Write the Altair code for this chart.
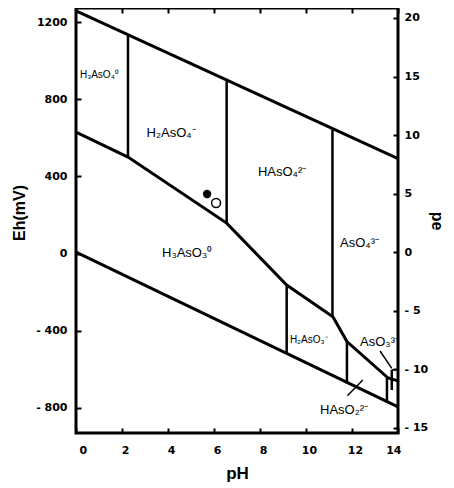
import altair as alt
import pandas as pd

# ---- data (pH, Eh in mV) ----
upper_ph = [0, 14]
upper_eh = [1258, 492]
lower_ph = [0, 14]
lower_eh = [8, -795]
bound_ph = [0, 2.26, 6.55, 9.16, 11.17, 11.78, 13.57, 14]
bound_eh = [630, 500, 158, -163, -327, -456, -645, -660]
vert_ph = [2.26, 6.55, 11.15, 9.16, 11.78, 13.52, 13.73]
vert_lo = [500, 158, -325, -516, -672, -767, -707]
vert_hi = [1135, 893, 650, -163, -456, -642, -603]
lead_ph = [[13.22, 13.73], [11.8, 12.47], [13.73, 13.92]]
lead_eh = [[-505, -595], [-737, -655], [-603, -603]]

big_labels = ["H₂AsO₄⁻", "HAsO₄²⁻", "AsO₄³⁻", "H₃AsO₃⁰", "AsO₃³⁻", "HAsO₂²⁻"]
big_ph = [3.07, 7.91, 11.48, 3.74, 12.35, 10.61]
big_eh = [624, 423, 55, 3, -458, -810]
small_labels = ["H₃AsO₄⁰", "H₂AsO₃⁻"]
small_ph = [0.17, 9.3]
small_eh = [925, -448]

filled_ph = [5.7]
filled_eh = [309]
open_ph = [6.09]
open_eh = [262]

ph_ticks = [0, 2, 4, 6, 8, 10, 12, 14]
eh_ticks = [-800, -400, 0, 400, 800, 1200]
pe_ticks = [-15, -10, -5, 0, 5, 10, 15, 20]

# ---- tables ----
rows = []
def add(seg, xs, ys, w):
    for i, (a, b) in enumerate(zip(xs, ys)):
        rows.append(dict(seg=seg, i=i, pH=a, Eh=b, w=w))

add("o2", upper_ph, upper_eh, 3)
add("h2", lower_ph, lower_eh, 3)
add("as", bound_ph, bound_eh, 3)
for k, (p, lo, hi) in enumerate(zip(vert_ph, vert_lo, vert_hi)):
    add(f"v{k}", [p, p], [lo, hi], 2.5)
for k, (xs, ys) in enumerate(zip(lead_ph, lead_eh)):
    add(f"l{k}", xs, ys, 1.5)
lines_df = pd.DataFrame(rows)

big_df = pd.DataFrame(dict(t=big_labels, pH=big_ph, Eh=big_eh))
small_df = pd.DataFrame(dict(t=small_labels, pH=small_ph, Eh=small_eh))
filled_df = pd.DataFrame(dict(pH=filled_ph, Eh=filled_eh))
open_df = pd.DataFrame(dict(pH=open_ph, Eh=open_eh))
pe_df = pd.DataFrame(dict(pe=pe_ticks))

W, H = 322, 425
x_scale = alt.Scale(domain=[0, 14], nice=False, zero=False)
y_scale = alt.Scale(domain=[-930, 1273], nice=False, zero=False)
pe_scale = alt.Scale(domain=[-15.43, 20.85], nice=False, zero=False)

neg_expr = "datum.value < 0 ? '- ' + abs(datum.value) : '' + datum.value"

common_axis = dict(
    ticks=False, domain=False, grid=True, gridColor="black", gridWidth=2,
    labelFont="DejaVu Sans", labelFontWeight="bold", labelFontSize=11,
    labelColor="black", titleFont="Liberation Sans", titleFontWeight="bold",
    titleColor="black", titleBaseline="middle", titleAlign="center",
)

x_axis = alt.Axis(values=ph_ticks, format="d", gridDash=[5, H - 10, 5, 2000],
                  labelPadding=11, labelOffset=3, title="pH", titleFontSize=17,
                  titleX=W / 2, titleY=40, titleAngle=0, **common_axis)
y_axis = alt.Axis(values=eh_ticks, labelExpr=neg_expr, gridDash=[5, 2000],
                  labelPadding=9, title="Eh(mV)", titleFontSize=16,
                  titleAngle=270, titleX=-57, titleY=H / 2 - 8, **common_axis)
pe_axis = alt.Axis(values=pe_ticks, labelExpr=neg_expr, gridDash=[5, 2000],
                   orient="right", labelPadding=6, labelAlign="left",
                   title="pe", titleFontSize=16, titleAngle=90,
                   titleX=38, titleY=H / 2, **common_axis)

X = alt.X("pH:Q", scale=x_scale, axis=x_axis)
Y = alt.Y("Eh:Q", scale=y_scale, axis=y_axis)

lines = alt.Chart(lines_df).mark_line(color="black", strokeCap="butt").encode(
    x=X, y=Y,
    detail="seg:N",
    order="i:Q",
    strokeWidth=alt.StrokeWidth("w:Q", scale=None),
)

big_txt = alt.Chart(big_df).mark_text(
    align="left", baseline="middle", font="Liberation Sans", fontSize=13, color="black"
).encode(x=X, y=Y, text="t:N")

small_txt = alt.Chart(small_df).mark_text(
    align="left", baseline="middle", font="Liberation Sans", fontSize=10, color="black"
).encode(x=X, y=Y, text="t:N")

filled = alt.Chart(filled_df).mark_point(
    shape="circle", filled=True, color="black", size=70, opacity=1
).encode(x=X, y=Y)

opened = alt.Chart(open_df).mark_point(
    shape="circle", filled=False, color="black", size=80, strokeWidth=1.5, opacity=1
).encode(x=X, y=Y)

main = alt.layer(lines, big_txt, small_txt, filled, opened)

pe_layer = alt.Chart(pe_df).mark_point(opacity=0).encode(
    y=alt.Y("pe:Q", scale=pe_scale, axis=pe_axis),
)

chart = alt.layer(main, pe_layer).resolve_scale(y="independent").properties(
    width=W, height=H,
    autosize=alt.AutoSizeParams(type="none"),
    padding={"left": 68, "top": 0, "right": 48, "bottom": 55},
    background="white",
).configure_view(stroke="black", strokeWidth=3)

chart.save("out.html", embed_options={"renderer": "svg", "actions": False})
